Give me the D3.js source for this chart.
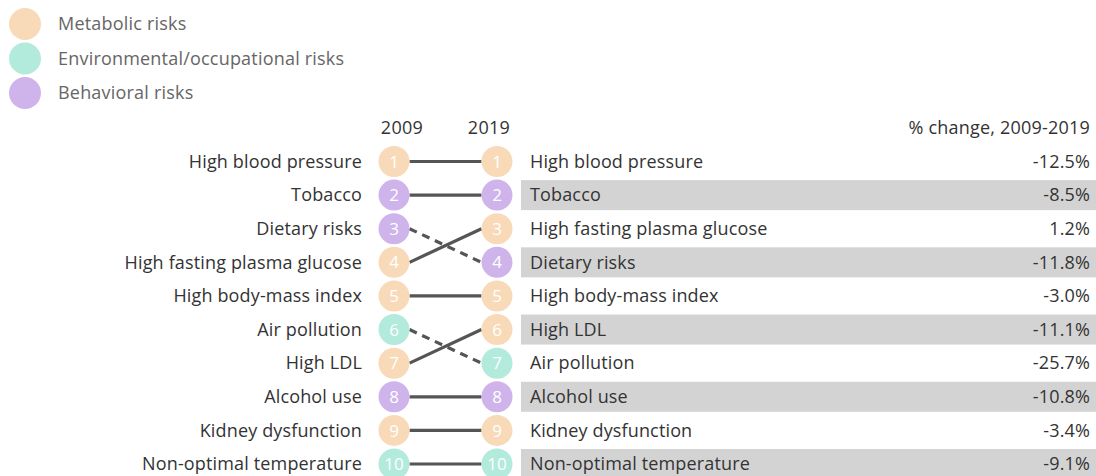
<!DOCTYPE html>
<html>
<head>
<meta charset="utf-8">
<script src="https://cdn.jsdelivr.net/npm/d3@7"></script>
<style>
  body { margin: 0; background: #fff; }
  svg { display: block; font-family: "Open Sans", Lato, sans-serif; }
</style>
</head>
<body>
<svg id="chart" width="1096" height="476"></svg>
<script>
const legendLabels = ["Metabolic risks", "Environmental/occupational risks", "Behavioral risks"];
const legendKeys = ["metabolic", "environmental", "behavioral"];
const colors = { metabolic: "#f8dab9", environmental: "#b2eadc", behavioral: "#ceb4eb" };

// 2009 ranking (rank order 1..10)
const risks2009 = ["High blood pressure", "Tobacco", "Dietary risks", "High fasting plasma glucose", "High body-mass index", "Air pollution", "High LDL", "Alcohol use", "Kidney dysfunction", "Non-optimal temperature"];
// 2019 ranking
const risks2019 = ["High blood pressure", "Tobacco", "High fasting plasma glucose", "Dietary risks", "High body-mass index", "High LDL", "Air pollution", "Alcohol use", "Kidney dysfunction", "Non-optimal temperature"];
const categoryOf = {
  "High blood pressure": "metabolic",
  "Tobacco": "behavioral",
  "Dietary risks": "behavioral",
  "High fasting plasma glucose": "metabolic",
  "High body-mass index": "metabolic",
  "Air pollution": "environmental",
  "High LDL": "metabolic",
  "Alcohol use": "behavioral",
  "Kidney dysfunction": "metabolic",
  "Non-optimal temperature": "environmental"
};
// % change, in 2019 order
const pctChange = ["-12.5%", "-8.5%", "1.2%", "-11.8%", "-3.0%", "-11.1%", "-25.7%", "-10.8%", "-3.4%", "-9.1%"];
const yearLabels = ["2009", "2019"];
const changeHeader = "% change, 2009-2019";

const svg = d3.select("#chart");
const W = 1096;
const ranks = d3.range(1, 11);
const y = d3.scalePoint().domain(ranks).range([161.5, 464]);
const x = d3.scalePoint().domain(yearLabels).range([394, 497]);
const r = 15.5;
const FS = 18;
const LS = "0.15px";

// Legend
const ly = d3.scalePoint().domain(legendKeys).range([24, 93]);
const leg = svg.append("g");
leg.selectAll("circle").data(legendKeys).join("circle")
  .attr("cx", 25).attr("cy", d => ly(d)).attr("r", 16)
  .attr("fill", d => colors[d]);
leg.selectAll("text").data(legendKeys).join("text")
  .attr("x", 58).attr("y", d => ly(d)).attr("dy", "0.35em")
  .attr("font-size", FS).attr("letter-spacing", "0.2px").attr("fill", "#666")
  .text((d, i) => legendLabels[i]);

// Bands on right (even rows)
svg.append("g").selectAll("rect").data(ranks.filter(d => d % 2 === 0)).join("rect")
  .attr("x", 521).attr("width", W - 521)
  .attr("y", d => y(d) - 15).attr("height", 30)
  .attr("fill", "#d3d3d3");

// Headers
svg.append("g").selectAll("text").data(yearLabels).join("text")
  .attr("x", d => x(d) + (d === "2009" ? 8 : -8)).attr("y", 128).attr("dy", "0.35em")
  .attr("text-anchor", "middle").attr("font-size", FS).attr("letter-spacing", "0.3px").attr("fill", "#333")
  .text(d => d);
svg.append("text").attr("x", 1090).attr("y", 128).attr("dy", "0.35em")
  .attr("text-anchor", "end").attr("font-size", FS).attr("letter-spacing", "0.2px").attr("fill", "#333")
  .text(changeHeader);

// Connecting lines
const links = risks2009.map((name, i) => ({ name, from: i + 1, to: risks2019.indexOf(name) + 1 }));
svg.append("g").selectAll("line").data(links).join("line")
  .attr("x1", x("2009") + r).attr("y1", d => y(d.from))
  .attr("x2", x("2019") - r).attr("y2", d => y(d.to))
  .attr("stroke", "#555").attr("stroke-width", 3.2)
  .attr("stroke-dasharray", d => d.to > d.from ? "8,6" : null);

// Circles
function drawColumn(list, year) {
  const g = svg.append("g");
  g.selectAll("circle").data(list).join("circle")
    .attr("cx", x(year)).attr("cy", (d, i) => y(i + 1)).attr("r", r)
    .attr("fill", d => colors[categoryOf[d]]);
  g.selectAll("text").data(list).join("text")
    .attr("x", x(year)).attr("y", (d, i) => y(i + 1)).attr("dy", "0.36em")
    .attr("text-anchor", "middle").attr("font-size", 17).attr("fill", "#fff")
    .text((d, i) => i + 1);
}
drawColumn(risks2009, "2009");
drawColumn(risks2019, "2019");

// Left labels
svg.append("g").selectAll("text").data(risks2009).join("text")
  .attr("x", 362).attr("y", (d, i) => y(i + 1)).attr("dy", "0.35em")
  .attr("text-anchor", "end").attr("font-size", FS).attr("letter-spacing", LS).attr("fill", "#333")
  .text(d => d);
// Right labels
svg.append("g").selectAll("text").data(risks2019).join("text")
  .attr("x", 530).attr("y", (d, i) => y(i + 1)).attr("dy", "0.35em")
  .attr("font-size", FS).attr("letter-spacing", LS).attr("fill", "#333")
  .text(d => d);
// Pct
svg.append("g").selectAll("text").data(pctChange).join("text")
  .attr("x", 1090).attr("y", (d, i) => y(i + 1)).attr("dy", "0.35em")
  .attr("text-anchor", "end").attr("font-size", FS).attr("letter-spacing", LS).attr("fill", "#333")
  .text(d => d);
</script>
</body>
</html>
